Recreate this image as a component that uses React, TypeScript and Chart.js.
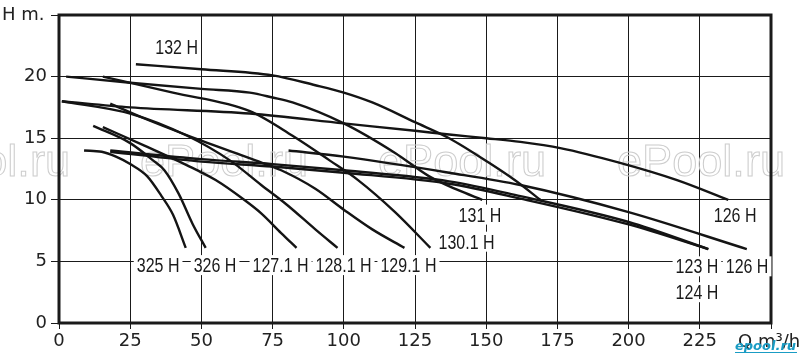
import { useEffect, useRef } from 'react';
import { Chart, registerables } from 'chart.js';

Chart.register(...registerables);

// ---- data (flow Q in m³/h, head H in m) ----
const q132 = [27, 50, 75, 90, 100, 110, 125, 137, 151, 160, 169];
const h132 = [21.0, 20.6, 20.1, 19.3, 18.7, 17.9, 16.3, 15.0, 13.0, 11.6, 10.0];

const q131 = [2.5, 25, 50, 67, 75, 82, 100, 118, 130, 140, 148.6];
const h131 = [20.0, 19.5, 19.0, 18.7, 18.3, 17.9, 16.2, 13.8, 11.9, 10.8, 10.0];

const q1301 = [15.4, 40, 67, 82, 95, 105, 118, 130.4];
const h1301 = [20.0, 18.7, 17.2, 15.2, 13.2, 11.6, 9.0, 6.1];

const q1291 = [18, 30, 50, 69, 78, 90, 100, 110, 121.3];
const h1291 = [17.8, 16.6, 14.8, 13.2, 12.4, 10.9, 9.2, 7.6, 6.1];

const q1281 = [1, 25, 45, 60, 71, 80, 90, 97.8];
const h1281 = [18.0, 17.0, 15.2, 13.2, 11.2, 9.6, 7.6, 6.1];

const q1271 = [15.4, 30, 45, 55, 65, 71, 78, 83.4];
const h1271 = [15.9, 14.4, 12.8, 11.6, 10.0, 8.9, 7.3, 6.1];

const q326 = [12, 25, 33, 37, 42, 47, 51.5];
const h326 = [16.0, 14.6, 13.2, 12.4, 10.5, 8.0, 6.1];

const q325 = [8.8, 15, 20, 25, 31, 36, 40, 44.5];
const h325 = [14.0, 13.9, 13.5, 12.9, 11.9, 10.3, 8.8, 6.1];

const q123 = [18, 50, 75, 100, 137, 162, 200, 228];
const h123 = [14.0, 13.3, 12.9, 12.4, 11.5, 10.3, 8.2, 6.0];
const h124 = [13.9, 13.1, 12.7, 12.2, 11.3, 10.1, 8.0, 6.0];

const q126a = [1, 25, 67, 100, 125, 137, 150, 162, 176, 197, 217, 235];
const h126a = [18.0, 17.5, 17.0, 16.2, 15.6, 15.3, 15.0, 14.7, 14.2, 13.0, 11.6, 10.0];

const q126b = [80.6, 100, 137, 162, 200, 241.5];
const h126b = [14.0, 13.5, 12.2, 11.2, 9.0, 6.0];

const curves: [number[], number[]][] = [
  [q132, h132], [q131, h131], [q1301, h1301], [q1291, h1291], [q1281, h1281],
  [q1271, h1271], [q326, h326], [q325, h325], [q123, h123], [q123, h124],
  [q126a, h126a], [q126b, h126b],
];

// curve labels: text and anchor (in data units)
const labelTexts = ['132 H', '325 H', '326 H', '127.1 H', '128.1 H', '129.1 H', '130.1 H', '131 H', '126 H', '123 H', '126 H', '124 H'];
const labelQ = [41.3, 34.8, 54.8, 77.8, 99.9, 122.7, 143.1, 147.8, 237.4, 224, 241.6, 224];
const labelH = [22.4, 4.7, 4.7, 4.7, 4.7, 4.7, 6.6, 8.8, 8.75, 4.6, 4.6, 2.5];

const LABEL_FONT = "20px 'Liberation Sans', sans-serif";
const LABEL_SQUEEZE = 0.8;
const AXIS_FONT = "18px 'DejaVu Sans', sans-serif";

const overlay = {
  id: 'overlay',
  beforeDatasetsDraw(chart: any) {
    const ctx = chart.ctx;
    ctx.save();
    ctx.font = "44px 'Liberation Sans', sans-serif";
    ctx.strokeStyle = '#cdcdcd';
    ctx.lineWidth = 1;
    ctx.textBaseline = 'alphabetic';
    const w = ctx.measureText('ePool.ru').width;
    const sx = 168 / w;
    for (const start of [-98, 140, 378, 617]) {
      ctx.save();
      ctx.translate(start, 176);
      ctx.scale(sx, 1);
      ctx.strokeText('ePool.ru', 0, 0);
      ctx.restore();
    }
    ctx.restore();
  },
  afterDatasetsDraw(chart: any) {
    const ctx = chart.ctx;
    const { left, right, top, bottom } = chart.chartArea;
    const xs = chart.scales.x;
    const ys = chart.scales.y;
    ctx.save();
    // frame
    ctx.strokeStyle = '#1a1a1a';
    ctx.lineWidth = 3;
    ctx.strokeRect(left, top, right - left, bottom - top);
    // labels
    ctx.font = LABEL_FONT;
    ctx.textAlign = 'center';
    ctx.textBaseline = 'alphabetic';
    labelTexts.forEach((t, i) => {
      const px = xs.getPixelForValue(labelQ[i]);
      const py = ys.getPixelForValue(labelH[i]);
      const w = ctx.measureText(t).width * LABEL_SQUEEZE;
      ctx.fillStyle = '#ffffff';
      ctx.fillRect(px - w / 2 - 3, py - 10, w + 6, 20);
      ctx.fillStyle = '#1a1a1a';
      ctx.save();
      ctx.translate(px, py + 7);
      ctx.scale(LABEL_SQUEEZE, 1);
      ctx.fillText(t, 0, 0);
      ctx.restore();
    });
    ctx.restore();
  },
  afterDraw(chart: any) {
    const ctx = chart.ctx;
    ctx.save();
    ctx.fillStyle = '#222';
    ctx.font = AXIS_FONT;
    ctx.textAlign = 'left';
    ctx.textBaseline = 'alphabetic';
    ctx.fillText('H m.', 2, 20);
    ctx.fillText('Q m³/h', 738, 347);
    ctx.font = "bold italic 13px 'DejaVu Sans', sans-serif";
    ctx.fillStyle = '#1a9cc4';
    ctx.fillText('epool.ru', 735, 350);
    ctx.fillRect(735, 352, 62, 1);
    ctx.restore();
  },
};

export default function App() {
  const ref = useRef<HTMLCanvasElement>(null);
  useEffect(() => {
    const datasets = curves.map(([q, h], i) => ({
      label: 'c' + i,
      data: q.map((x, j) => ({ x, y: h[j] })),
      borderColor: '#141414',
      borderWidth: 2.4,
      pointRadius: 0,
      fill: false,
      cubicInterpolationMode: 'monotone' as const,
    }));
    const chart = new Chart(ref.current!, {
      type: 'line',
      data: { datasets },
      options: {
        animation: false,
        responsive: false,
        devicePixelRatio: 1,
        layout: { padding: { top: 15, right: 29, left: 0, bottom: 0 } },
        plugins: { legend: { display: false }, tooltip: { enabled: false } },
        scales: {
          x: {
            type: 'linear',
            min: 0,
            max: 250,
            afterFit: (s: any) => { s.height = 33; },
            ticks: {
              stepSize: 25,
              color: '#222',
              font: { family: 'DejaVu Sans', size: 18 },
              padding: 2,
              maxRotation: 0,
              autoSkip: false,
              callback: (v: any) => (v === 250 ? '' : String(v)),
            },
            grid: { color: '#1a1a1a', lineWidth: 1, tickLength: 6 },
            border: { display: false },
          },
          y: {
            type: 'linear',
            min: 0,
            max: 25,
            afterFit: (s: any) => { s.width = 59; },
            ticks: {
              stepSize: 5,
              color: '#222',
              font: { family: 'DejaVu Sans', size: 18 },
              padding: 4,
              callback: (v: any) => (v === 25 ? '' : String(v)),
            },
            grid: { color: '#1a1a1a', lineWidth: 1, tickLength: 8 },
            border: { display: false },
          },
        },
      },
      plugins: [overlay],
    });
    return () => chart.destroy();
  }, []);
  return (
    <div style={{ position: 'fixed', left: 0, top: 0, width: 800, height: 356, background: '#fff' }}>
      <canvas ref={ref} width={800} height={356} style={{ display: 'block', width: 800, height: 356 }} />
    </div>
  );
}
